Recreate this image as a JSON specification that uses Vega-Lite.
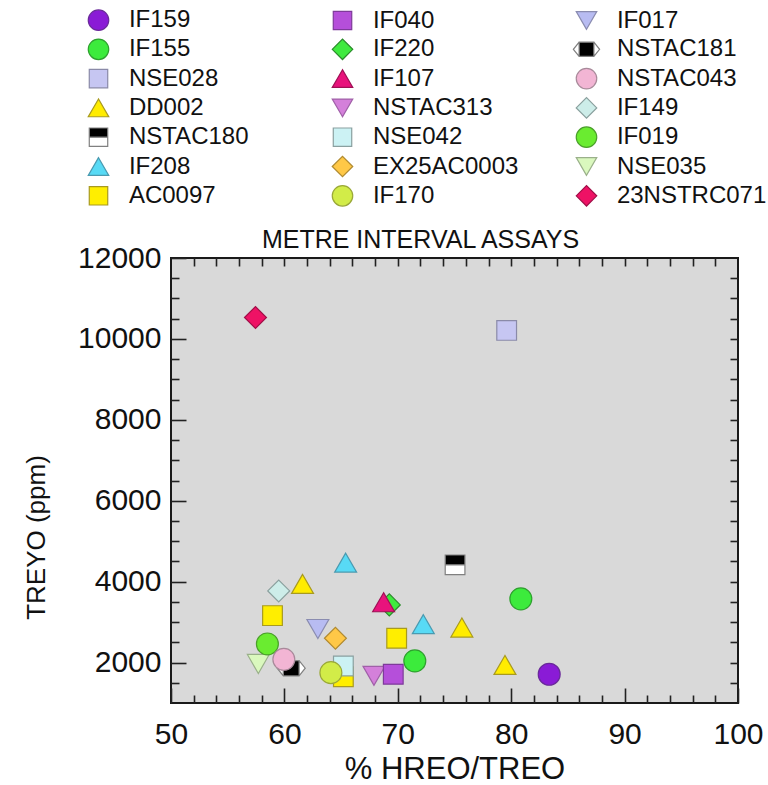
{
  "$schema": "https://vega.github.io/schema/vega-lite/v6.json",
  "width": 567,
  "height": 445,
  "autosize": {"type": "none"},
  "padding": {"left": 171, "top": 258, "right": 30, "bottom": 82},
  "background": "white",
  "config": {
    "font": "Liberation Sans",
    "view": {"fill": "#D9D9D9", "stroke": "#1a1a1a", "strokeWidth": 2},
    "axis": {
      "domain": false,
      "grid": false,
      "tickColor": "#222222",
      "tickWidth": 1.6,
      "labelColor": "#111111",
      "titleColor": "#111111",
      "labelFont": "Liberation Sans",
      "titleFont": "Liberation Sans",
      "labelFontSize": 30,
      "titleFontSize": 30,
      "titleFontWeight": "normal"
    }
  },
  "title": {
    "text": "METRE INTERVAL ASSAYS",
    "fontSize": 25,
    "font": "Liberation Sans",
    "fontWeight": "normal",
    "color": "#111111",
    "anchor": "middle",
    "frame": "group",
    "dx": -34,
    "dy": 265,
    "offset": 0,
    "baseline": "alphabetic"
  },
  "data": {
    "values": [
      {"series": "IF208", "pct": 65.4, "treyo": 4470},
      {"series": "IF149", "pct": 59.5, "treyo": 3770},
      {"series": "DD002", "pct": 61.6, "treyo": 3945},
      {"series": "AC0097", "pct": 58.95, "treyo": 3160},
      {"series": "IF017", "pct": 62.95, "treyo": 2830},
      {"series": "EX25AC0003", "pct": 64.5, "treyo": 2600},
      {"series": "NSE035", "pct": 57.7, "treyo": 1965},
      {"series": "IF019", "pct": 58.5, "treyo": 2460},
      {"series": "NSTAC181", "pct": 60.6, "treyo": 1860},
      {"series": "NSTAC043", "pct": 59.95, "treyo": 2080},
      {"series": "AC0097", "pct": 65.2, "treyo": 1650},
      {"series": "NSE042", "pct": 65.2, "treyo": 1915},
      {"series": "IF170", "pct": 64.1, "treyo": 1750},
      {"series": "NSTAC180", "pct": 75.05, "treyo": 4415},
      {"series": "IF220", "pct": 69.25, "treyo": 3425},
      {"series": "IF107", "pct": 68.75, "treyo": 3490},
      {"series": "IF155", "pct": 80.85, "treyo": 3575},
      {"series": "IF208", "pct": 72.25, "treyo": 2950},
      {"series": "DD002", "pct": 75.65, "treyo": 2865},
      {"series": "AC0097", "pct": 69.9, "treyo": 2600},
      {"series": "IF155", "pct": 71.5, "treyo": 2040},
      {"series": "DD002", "pct": 79.45, "treyo": 1940},
      {"series": "IF159", "pct": 83.35, "treyo": 1710},
      {"series": "NSTAC313", "pct": 67.9, "treyo": 1670},
      {"series": "IF040", "pct": 69.6, "treyo": 1710},
      {"series": "23NSTRC071", "pct": 57.45, "treyo": 10530},
      {"series": "NSE028", "pct": 79.6, "treyo": 10210}
    ]
  },
  "layer": [
    {
      "transform": [{"filter": "datum.series === 'NSTAC180'"}],
      "mark": {"type": "point", "filled": true, "shape": "M-0.9,-0.9H0.9V0.9H-0.9Z", "fill": "#ffffff", "strokeWidth": 0, "size": 480, "opacity": 1},
      "encoding": {
        "x": {
          "field": "pct", "type": "quantitative",
          "scale": {"domain": [50, 100], "nice": false, "zero": false},
          "axis": {
            "orient": "bottom",
            "values": [50, 60, 70, 80, 90, 100],
            "tickSize": -15,
            "labelPadding": 31,
            "labelFlush": false,
            "title": "% HREO/TREO",
            "titleFontSize": 31,
            "titleX": 283.5,
            "titleY": 75,
            "titleAlign": "center",
            "titleBaseline": "alphabetic"
          }
        },
        "y": {
          "field": "treyo", "type": "quantitative",
          "scale": {"domain": [1000, 12000], "nice": false, "zero": false},
          "axis": {
            "orient": "left",
            "values": [2000, 4000, 6000, 8000, 10000, 12000],
            "format": "d",
            "tickSize": -15,
            "labelPadding": 25,
            "labelFlush": false,
            "title": "TREYO (ppm)",
            "titleFontSize": 26,
            "titleX": -127,
            "titleY": 279,
            "titleAngle": -90,
            "titleAlign": "center",
            "titleBaseline": "alphabetic"
          }
        }
      }
    },
    {
      "transform": [{"filter": "datum.series === 'NSTAC181'"}],
      "mark": {"type": "point", "filled": true, "shape": "M-1.28,0L-0.72,-0.7H0.72L1.28,0L0.72,0.7H-0.72Z", "fill": "#ffffff", "strokeWidth": 0, "size": 480, "opacity": 1},
      "encoding": {
        "x": {
          "field": "pct", "type": "quantitative",
          "scale": {"domain": [50, 100], "nice": false, "zero": false},
          "axis": {
            "orient": "bottom",
            "values": [52, 54, 56, 58, 62, 64, 66, 68, 72, 74, 76, 78, 82, 84, 86, 88, 92, 94, 96, 98],
            "tickSize": -8,
            "labels": false,
            "title": null
          }
        },
        "y": {
          "field": "treyo", "type": "quantitative",
          "scale": {"domain": [1000, 12000], "nice": false, "zero": false},
          "axis": {
            "orient": "left",
            "values": [1500, 2500, 3000, 3500, 4500, 5000, 5500, 6500, 7000, 7500, 8500, 9000, 9500, 10500, 11000, 11500],
            "tickSize": -8,
            "labels": false,
            "title": null
          }
        }
      }
    },
    {
      "mark": {"type": "point", "filled": true, "size": 480, "strokeWidth": 1.2, "opacity": 1},
      "encoding": {
        "x": {
          "field": "pct", "type": "quantitative",
          "scale": {"domain": [50, 100], "nice": false, "zero": false},
          "axis": {
            "orient": "top",
            "values": [52, 54, 56, 58, 60, 62, 64, 66, 68, 70, 72, 74, 76, 78, 80, 82, 84, 86, 88, 90, 92, 94, 96, 98],
            "tickSize": -8,
            "labels": false,
            "title": null
          }
        },
        "y": {
          "field": "treyo", "type": "quantitative",
          "scale": {"domain": [1000, 12000], "nice": false, "zero": false},
          "axis": {
            "orient": "right",
            "values": [1500, 2000, 2500, 3000, 3500, 4000, 4500, 5000, 5500, 6000, 6500, 7000, 7500, 8000, 8500, 9000, 9500, 10000, 10500, 11000, 11500],
            "tickSize": -8,
            "labels": false,
            "title": null
          }
        },
        "fill": {
          "field": "series", "type": "nominal",
          "scale": {
            "domain": ["IF159", "IF155", "NSE028", "DD002", "NSTAC180", "IF208", "AC0097", "IF040", "IF220", "IF107", "NSTAC313", "NSE042", "EX25AC0003", "IF170", "IF017", "NSTAC181", "NSTAC043", "IF149", "IF019", "NSE035", "23NSTRC071"],
            "range": ["#8A1BD6", "#3CEB3C", "#C6C6F2", "#FFEC00", "#000000", "#58DAF5", "#FFEE00", "#B54FDA", "#3FEA3F", "#E8137C", "#D480DA", "#CCF2F4", "#FFC847", "#D2EC48", "#B8BCF2", "#000000", "#F2B5D4", "#CDEDE9", "#6AEC30", "#DAF8BE", "#EE1265"]
          },
          "legend": {
            "orient": "none",
            "legendX": -84.5,
            "legendY": -250,
            "columns": 3,
            "gridAlign": "all",
            "columnPadding": 48,
            "rowPadding": 3.3,
            "padding": 0,
            "title": null,
            "labelFont": "Liberation Sans",
            "labelFontSize": 24,
            "labelColor": "#111111",
            "labelOffset": 18.4,
            "labelLimit": 300,
            "symbolSize": 420,
            "symbolStrokeWidth": 1.2,
            "symbolOpacity": 1
          }
        },
        "stroke": {
          "field": "series", "type": "nominal",
          "scale": {
            "domain": ["IF159", "IF155", "NSE028", "DD002", "NSTAC180", "IF208", "AC0097", "IF040", "IF220", "IF107", "NSTAC313", "NSE042", "EX25AC0003", "IF170", "IF017", "NSTAC181", "NSTAC043", "IF149", "IF019", "NSE035", "23NSTRC071"],
            "range": ["#6A2A9A", "#2EA02E", "#8A8AA8", "#A89A20", "#808080", "#4A9AB0", "#A89A20", "#7E3A9A", "#2A8A2A", "#A01055", "#A060A8", "#8AA0A0", "#B08A30", "#9AA838", "#8A8CB0", "#808080", "#A88A9A", "#8AA09E", "#4AA02A", "#9AB08A", "#A01048"]
          }
        },
        "shape": {
          "field": "series", "type": "nominal",
          "scale": {
            "domain": ["IF159", "IF155", "NSE028", "DD002", "NSTAC180", "IF208", "AC0097", "IF040", "IF220", "IF107", "NSTAC313", "NSE042", "EX25AC0003", "IF170", "IF017", "NSTAC181", "NSTAC043", "IF149", "IF019", "NSE035", "23NSTRC071"],
            "range": ["circle", "circle", "M-0.9,-0.9H0.9V0.9H-0.9Z", "triangle-up", "M-0.9,-0.9H0.9V0H-0.9Z M-0.9,0H0.9V0.9H-0.9Z M-0.9,0V0.9H0.9V0Z", "triangle-up", "M-0.9,-0.9H0.9V0.9H-0.9Z", "M-0.9,-0.9H0.9V0.9H-0.9Z", "diamond", "triangle-up", "triangle-down", "M-0.9,-0.9H0.9V0.9H-0.9Z", "diamond", "circle", "triangle-down", "M-0.72,-0.7H0.72V0.7H-0.72Z M-1.28,0L-0.72,-0.7H0.72L1.28,0L0.72,0.7H-0.72Z M-1.28,0L-0.72,0.7H0.72L1.28,0L0.72,-0.7H-0.72Z", "circle", "diamond", "circle", "triangle-down", "diamond"]
          }
        }
      }
    }
  ],
  "resolve": {"axis": {"x": "independent", "y": "independent"}}
}
